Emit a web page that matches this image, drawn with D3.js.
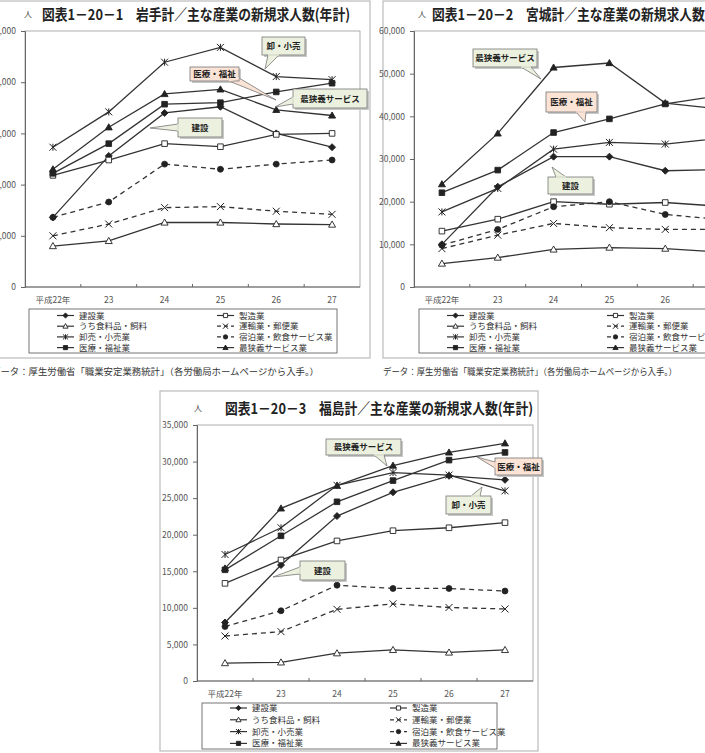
<!DOCTYPE html>
<html>
<head>
<meta charset="utf-8">
<script src="https://cdn.jsdelivr.net/npm/d3@7"></script>
<style>
  body { margin: 0; background: #fff; }
  svg { display: block; }
  text { font-family: "Noto Sans CJK JP", "Noto Sans", sans-serif; }
</style>
</head>
<body>
<div id="chart"></div>
<script>
// categories (years) and industries, same for all three prefectures
const years = ["平成22年", "23", "24", "25", "26", "27"]
const industries = ["建設業", "製造業", "うち食料品・飼料", "運輸業・郵便業",
    "卸売・小売業", "宿泊業・飲食サービス業", "医療・福祉業", "最狭義サービス業"]

// new job offers per year, rows follow `industries`
const iwate = [
    [6800, 12800, 17000, 17600, 15000, 13650],
    [10900, 12400, 14000, 13700, 14900, 15000],
    [4000, 4500, 6300, 6300, 6150, 6100],
    [5000, 6150, 7750, 7850, 7400, 7100],
    [13650, 17100, 21950, 23400, 20550, 20250],
    [6800, 8300, 12000, 11500, 12000, 12400],
    [11100, 14000, 17850, 18000, 19050, 19900],
    [11500, 15600, 18850, 19300, 17300, 16750]
]
const miyagi = [
    [10000, 23500, 30550, 30550, 27250, 27500],
    [13100, 15900, 20000, 19400, 19800, 18900],
    [5500, 6900, 8800, 9250, 9000, 8200],
    [9000, 12150, 14900, 13900, 13500, 13500],
    [17600, 23100, 32300, 33900, 33500, 34900],
    [9800, 13500, 18800, 20000, 17000, 15800],
    [22100, 27400, 36200, 39400, 42900, 44900],
    [24100, 36000, 51450, 52500, 43100, 41700]
]
const fukushima = [
    [8000, 15850, 22550, 25800, 28050, 27500],
    [13350, 16550, 19150, 20550, 20950, 21650],
    [2450, 2550, 3800, 4250, 3900, 4250],
    [6150, 6750, 9800, 10550, 10050, 9850],
    [17300, 20950, 26750, 28500, 28150, 26000],
    [7450, 9600, 13100, 12650, 12650, 12300],
    [15200, 19850, 24500, 27400, 30200, 31250],
    [15400, 23600, 26700, 29450, 31250, 32500]
]

const titles = [
    "図表1－20－1　岩手計／主な産業の新規求人数(年計)",
    "図表1－20－2　宮城計／主な産業の新規求人数(年計)",
    "図表1－20－3　福島計／主な産業の新規求人数(年計)"
]
const yMaxes = [25000, 60000, 35000]
const ySteps = [5000, 10000, 5000]
const sourceText = "データ：厚生労働省「職業安定業務統計」（各労働局ホームページから入手。）"

// series look
const styles = [
    {marker: 'diamond', fill: '#222', dash: null},
    {marker: 'square', fill: '#fff', dash: null},
    {marker: 'triangle', fill: '#fff', dash: null},
    {marker: 'x', fill: 'none', dash: '5,4'},
    {marker: 'asterisk', fill: 'none', dash: null},
    {marker: 'circle', fill: '#222', dash: '5,4'},
    {marker: 'square', fill: '#222', dash: null},
    {marker: 'triangle', fill: '#222', dash: null}
]

const colors = {
    line: '#333',
    axis: '#666',
    frame: '#bbb',
    text: '#333',
    green: '#ebf1de',
    pink: '#fbe3d6',
    callStroke: '#777'
}

// page layout of the three panels
const layouts = [
    {
        plot: {l: 25, t: 31, r: 360, b: 287},
        frame: {x: -14, y: 1, w: 384, h: 357},
        title: {x: 42, y: 20, unitX: 24},
        xLabelY: 303,
        legend: {x: 29, y: 309, w: 308, h: 44, rowY: 315.5, rowH: 10.7},
        source: {x: -9, y: 375, len: 328},
        callouts: [
            {text: '卸・小売', kind: 'green', box: [262, 37, 43, 18], base: [[268, 55], [279, 55]], tip: [265, 69]},
            {text: '医療・福祉', kind: 'pink', box: [190, 67, 49, 14], base: [[229, 81], [239, 78]], tip: [276, 100]},
            {text: '最狭義サービス', kind: 'green', box: [293, 89, 74, 19], base: [[293, 97], [293, 104]], tip: [275, 107]},
            {text: '建設', kind: 'green', box: [178, 118, 44, 19], base: [[178, 124], [178, 131]], tip: [150, 128]}
        ]
    },
    {
        plot: {l: 414, t: 31, r: 749, b: 287},
        frame: {x: 383, y: 1, w: 384, h: 357},
        title: {x: 432, y: 20, unitX: 418},
        xLabelY: 303,
        legend: {x: 419, y: 309, w: 308, h: 44, rowY: 315.5, rowH: 10.7},
        source: {x: 383, y: 375, len: 294},
        callouts: [
            {text: '最狭義サービス', kind: 'green', box: [473, 49, 64, 18], base: [[521, 67], [531, 67]], tip: [541, 79]},
            {text: '医療・福祉', kind: 'pink', box: [546, 92, 51, 20], base: [[576, 112], [586, 112]], tip: [585, 122]},
            {text: '建設', kind: 'green', box: [548, 177, 45, 17], base: [[556, 177], [566, 177]], tip: [552, 167]}
        ]
    },
    {
        plot: {l: 197, t: 425, r: 533, b: 681},
        frame: {x: 160, y: 391, w: 378, h: 360},
        title: {x: 225, y: 414, unitX: 194},
        xLabelY: 697,
        legend: {x: 202, y: 703, w: 295, h: 46, rowY: 708, rowH: 11.8},
        source: null,
        callouts: [
            {text: '最狭義サービス', kind: 'green', box: [326, 439, 75, 16], base: [[374, 455], [384, 455]], tip: [387, 466]},
            {text: '医療・福祉', kind: 'pink', box: [495, 458, 47, 17], base: [[495, 462], [495, 468]], tip: [477, 457]},
            {text: '卸・小売', kind: 'green', box: [446, 496, 45, 18], base: [[471, 496], [480, 496]], tip: [482, 487]},
            {text: '建設', kind: 'green', box: [300, 561, 45, 19], base: [[300, 567], [300, 574]], tip: [273, 577]}
        ]
    }
]

const W = 705, H = 753

const svg = d3.select('#chart').append('svg')
    .attr('width', W)
    .attr('height', H)
    .attr('viewBox', '0 0 ' + W + ' ' + H)

function markerPath(type, r) {
    switch (type) {
        case 'diamond': return `M0,${-r}L${r},0L0,${r}L${-r},0Z`
        case 'square': return `M${-r * .8},${-r * .8}h${r * 1.6}v${r * 1.6}h${-r * 1.6}Z`
        case 'triangle': return `M0,${-r}L${r},${r * .75}L${-r},${r * .75}Z`
        case 'x': return `M${-r},${-r}L${r},${r}M${-r},${r}L${r},${-r}`
        case 'asterisk': return `M${-r},${-r}L${r},${r}M${-r},${r}L${r},${-r}M0,${-r}V${r}`
    }
}

function drawMarker(g, type, fill, x, y, r) {
    if (type === 'circle') {
        g.append('circle')
            .attr('cx', x).attr('cy', y).attr('r', r * .85)
            .attr('fill', fill).attr('stroke', '#222').attr('stroke-width', .8)
    } else {
        g.append('path')
            .attr('d', markerPath(type, r))
            .attr('transform', `translate(${x},${y})`)
            .attr('fill', fill)
            .attr('stroke', '#222')
            .attr('stroke-width', type === 'x' || type === 'asterisk' ? 1 : .9)
    }
}

function drawCallout(g, c) {
    const [bx, by, bw, bh] = c.box
    const fill = c.kind === 'pink' ? colors.pink : colors.green
    // shadow
    g.append('rect')
        .attr('x', bx + 2).attr('y', by + 2).attr('width', bw).attr('height', bh)
        .attr('fill', '#c8c8c8')
    g.append('path')
        .attr('d', `M${c.base[0][0]},${c.base[0][1]}L${c.tip[0]},${c.tip[1]}L${c.base[1][0]},${c.base[1][1]}`)
        .attr('fill', fill)
        .attr('stroke', colors.callStroke)
        .attr('stroke-width', .8)
    g.append('rect')
        .attr('x', bx).attr('y', by).attr('width', bw).attr('height', bh)
        .attr('fill', fill)
        .attr('stroke', colors.callStroke)
        .attr('stroke-width', .8)
    // hide the box edge under the wedge opening
    g.append('path')
        .attr('d', `M${c.base[0][0]},${c.base[0][1]}L${c.base[1][0]},${c.base[1][1]}`)
        .attr('stroke', fill)
        .attr('stroke-width', 1.4)
    g.append('text')
        .attr('x', bx + bw / 2)
        .attr('y', by + bh / 2 + 3.2)
        .attr('text-anchor', 'middle')
        .attr('font-size', 8.5)
        .attr('font-weight', 'bold')
        .attr('fill', '#222')
        .text(c.text)
}

function drawChart(idx, values) {
    const lay = layouts[idx]
    const p = lay.plot
    const g = svg.append('g')

    // outer frame
    g.append('rect')
        .attr('x', lay.frame.x).attr('y', lay.frame.y)
        .attr('width', lay.frame.w).attr('height', lay.frame.h)
        .attr('fill', '#fff')
        .attr('stroke', colors.frame)
        .attr('stroke-width', 1.2)

    const x = d3.scaleBand().domain(years).range([p.l, p.r])
    const y = d3.scaleLinear().domain([0, yMaxes[idx]]).range([p.b, p.t])
    const cx = d => x(d) + x.bandwidth() / 2

    // plot area border
    g.append('rect')
        .attr('x', p.l).attr('y', p.t)
        .attr('width', p.r - p.l).attr('height', p.b - p.t)
        .attr('fill', 'none')
        .attr('stroke', '#999')
        .attr('stroke-width', .8)

    // y axis
    const yAxis = d3.axisLeft(y)
        .tickValues(d3.range(0, yMaxes[idx] + 1, ySteps[idx]))
        .tickFormat(d3.format(','))
        .tickSize(4)
        .tickPadding(5)
    const ya = g.append('g')
        .attr('transform', `translate(${p.l},0)`)
        .call(yAxis)
    ya.select('.domain').attr('stroke', colors.axis)
    ya.selectAll('.tick line').attr('stroke', colors.axis)
    ya.selectAll('.tick text')
        .attr('font-family', '"Liberation Sans", Arial, sans-serif')
        .attr('font-size', 8.5)
        .attr('fill', '#555')

    // x axis: ticks between categories, pointing inward
    g.append('line')
        .attr('x1', p.l).attr('x2', p.r).attr('y1', p.b).attr('y2', p.b)
        .attr('stroke', colors.axis)
    g.selectAll('.xtick')
        .data(years.slice(1))
        .join('line')
        .attr('class', 'xtick')
        .attr('x1', d => x(d)).attr('x2', d => x(d))
        .attr('y1', p.b).attr('y2', p.b - 3)
        .attr('stroke', colors.axis)
    g.selectAll('.xlabel')
        .data(years)
        .join('text')
        .attr('class', 'xlabel')
        .attr('x', d => cx(d))
        .attr('y', lay.xLabelY)
        .attr('text-anchor', 'middle')
        .attr('font-size', 8.5)
        .attr('fill', '#555')
        .text(d => d)

    // series lines
    const line = d3.line()
        .x((d, i) => cx(years[i]))
        .y(d => y(d))

    values.forEach((vals, s) => {
        g.append('path')
            .datum(vals)
            .attr('d', line)
            .attr('fill', 'none')
            .attr('stroke', colors.line)
            .attr('stroke-width', 1.3)
            .attr('stroke-dasharray', styles[s].dash)
    })
    values.forEach((vals, s) => {
        vals.forEach((v, i) => {
            drawMarker(g, styles[s].marker, styles[s].fill, cx(years[i]), y(v), 3.5)
        })
    })

    // callouts
    lay.callouts.forEach(c => drawCallout(g, c))

    // title
    g.append('text')
        .attr('x', lay.title.unitX)
        .attr('y', lay.title.y - 3)
        .attr('font-size', 8)
        .attr('fill', '#444')
        .text('人')
    g.append('text')
        .attr('x', lay.title.x)
        .attr('y', lay.title.y)
        .attr('font-size', 15)
        .attr('font-weight', 'bold')
        .attr('fill', '#222')
        .attr('textLength', 308)
        .attr('lengthAdjust', 'spacingAndGlyphs')
        .text(titles[idx])

    // legend
    const lg = lay.legend
    g.append('rect')
        .attr('x', lg.x).attr('y', lg.y).attr('width', lg.w).attr('height', lg.h)
        .attr('fill', '#fff')
        .attr('stroke', '#666')
        .attr('stroke-width', .9)
    industries.forEach((name, s) => {
        const col = s % 2
        const row = Math.floor(s / 2)
        const sx = lg.x + (col === 0 ? 28 : 188)
        const sy = lg.rowY + row * lg.rowH
        g.append('line')
            .attr('x1', sx).attr('x2', sx + 17)
            .attr('y1', sy).attr('y2', sy)
            .attr('stroke', colors.line)
            .attr('stroke-width', 1.2)
            .attr('stroke-dasharray', styles[s].dash ? '4,3' : null)
        drawMarker(g, styles[s].marker, styles[s].fill, sx + 8.5, sy, 2.6)
        g.append('text')
            .attr('x', sx + 22)
            .attr('y', sy + 3)
            .attr('font-size', 8.5)
            .attr('fill', '#333')
            .text(name)
    })

    if (lay.source) {
        svg.append('text')
            .attr('x', lay.source.x)
            .attr('y', lay.source.y)
            .attr('font-size', 9)
            .attr('fill', '#333')
            .attr('textLength', lay.source.len)
            .attr('lengthAdjust', 'spacingAndGlyphs')
            .text(sourceText)
    }
}

drawChart(0, iwate)
drawChart(1, miyagi)
drawChart(2, fukushima)
</script>
</body>
</html>
